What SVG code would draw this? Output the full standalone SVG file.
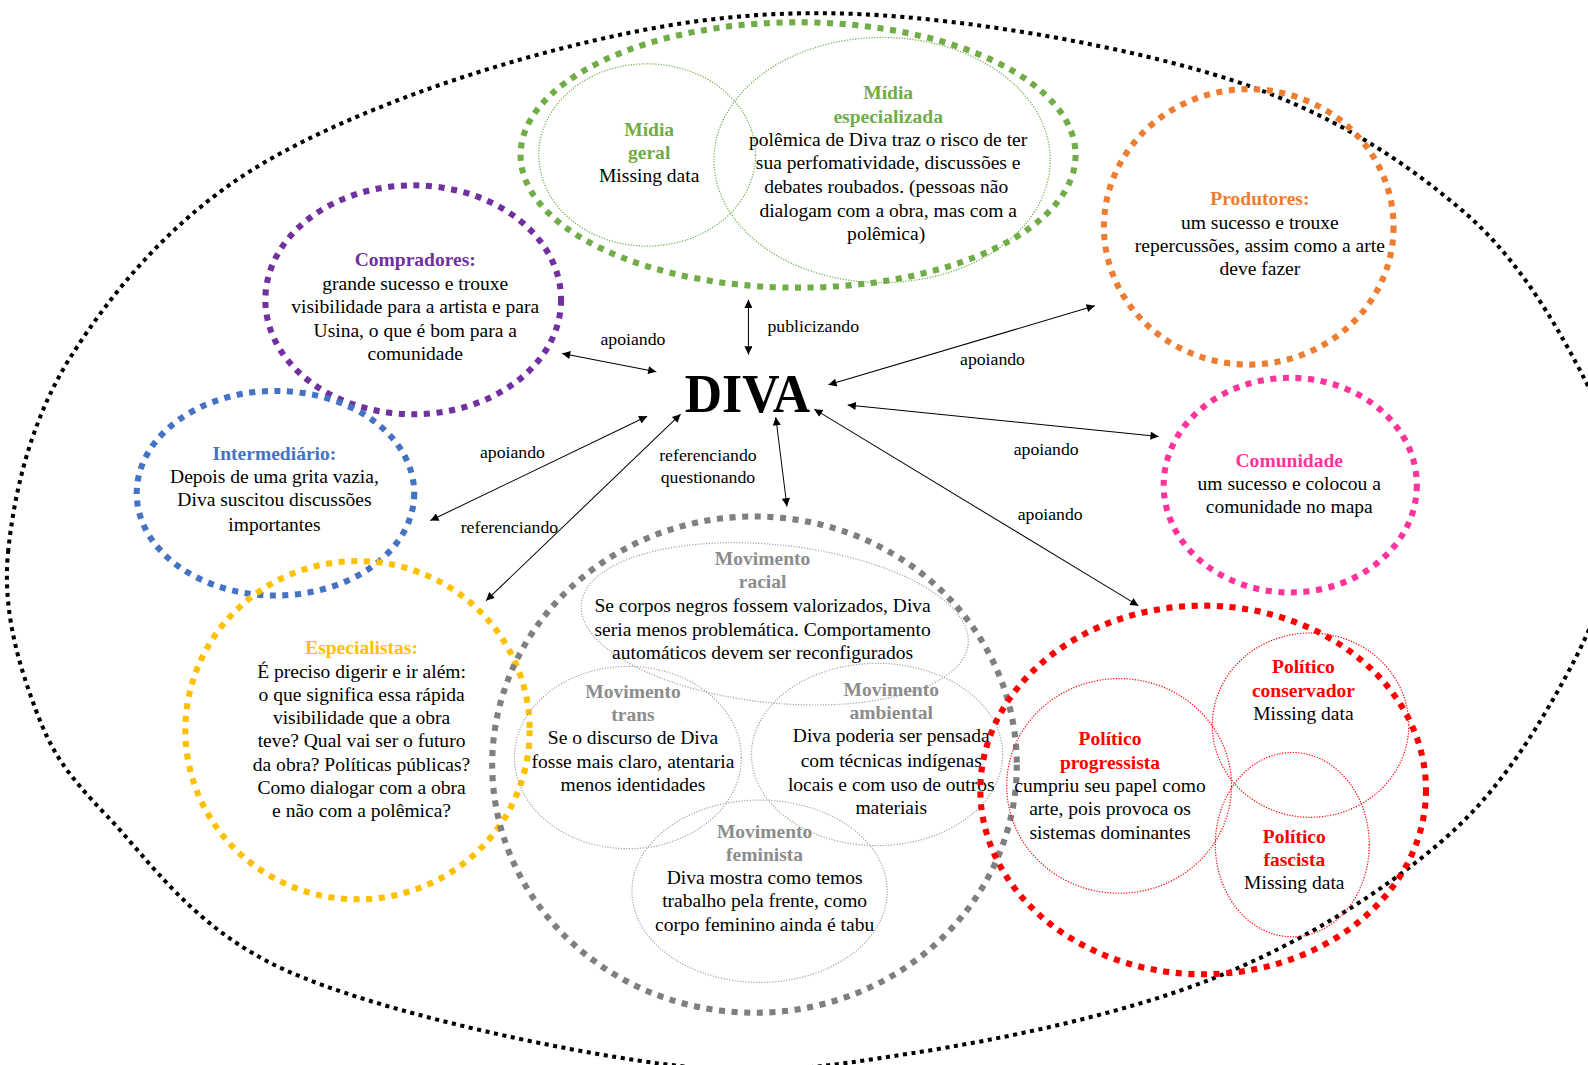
<svg xmlns="http://www.w3.org/2000/svg" width="1588" height="1065" viewBox="0 0 1588 1065">
<style>
text{font-family:"Liberation Serif","Times New Roman",serif;text-anchor:middle;fill:#000}
.n{font-size:19.3px}
.b{font-weight:bold}
.lb{font-size:17.5px}
.big{fill:none;stroke-width:6;stroke-dasharray:6 6.5}
.thin{fill:none;stroke-width:1.2;stroke-dasharray:1.2 1.5}
.gr{fill:#70AD47}.pu{fill:#7030A0}.bl{fill:#4472C4}.ye{fill:#FFC000}.or{fill:#ED7D31}.pk{fill:#FF3399}.rd{fill:#FF0000}.gy{fill:#8C8C8C}
.conn line{stroke:#000;stroke-width:1;marker-start:url(#ah);marker-end:url(#ah)}
</style>
<defs>
<marker id="ah" viewBox="0 0 10 10" refX="10" refY="5" markerWidth="11" markerHeight="8" markerUnits="userSpaceOnUse" orient="auto-start-reverse"><path d="M0,0 L10,5 L0,10 z" fill="#000"/></marker>
</defs>
<rect width="1588" height="1065" fill="#fff"/>
<g transform="scale(1.01276)">
<g id="contexto">
<path fill="none" stroke="#000" stroke-width="4" stroke-dasharray="4 4.5" d="M8 545 C13.8 487 30.2 414.7 70 352 C109.8 289.3 167 219.5 247 169 C327 118.5 449.5 74.8 550 49 C650.5 23.2 739 9 850 14 C961 19 1117 46.7 1216 79 C1315 111.3 1385.7 158.3 1444 208 C1502.3 257.7 1540 326.7 1566 377 C1592 427.3 1603.5 461.2 1600 510 C1596.5 558.8 1574.7 616.3 1545 670 C1515.3 723.7 1479.8 782.7 1422 832 C1364.2 881.3 1285 931.3 1198 966 C1111 1000.7 991.3 1026 900 1040 C808.7 1054 753 1063.7 650 1050 C547 1036.3 372.7 998.7 282 958 C191.3 917.3 147.2 849 106 806 C64.8 763 51.3 743.5 35 700 C18.7 656.5 2.2 603 8 545 Z"/>
</g>

<g id="midia">
<ellipse class="big" stroke="#70AD47" cx="788" cy="153" rx="274" ry="131"/>
<ellipse class="thin" stroke="#70AD47" cx="639" cy="153" rx="107" ry="90"/>
<ellipse class="thin" stroke="#70AD47" cx="871" cy="158" rx="166" ry="121"/>
<text class="n b gr" x="641" y="134">Mídia<tspan x="641" dy="23">geral</tspan></text>
<text class="n" x="641" y="180">Missing data</text>
<text class="n b gr" x="877" y="98">Mídia<tspan x="877" dy="23.3">especializada</tspan></text>
<text class="n" x="877" y="144">polêmica de Diva traz o risco de ter<tspan x="877" dy="23.3">sua perfomatividade, discussões e</tspan><tspan x="875" dy="23.3">debates roubados. (pessoas não</tspan><tspan x="877" dy="23.3">dialogam com a obra, mas com a</tspan><tspan x="875" dy="23.3">polêmica)</tspan></text>
</g>

<g id="compradores">
<ellipse class="big" stroke="#7030A0" cx="408" cy="296" rx="146" ry="113"/>
<text class="n b pu" x="410" y="263">Compradores:</text>
<text class="n" x="410" y="286">grande sucesso e trouxe<tspan x="410" dy="23">visibilidade para a artista e para</tspan><tspan x="410" dy="23.5">Usina, o que é bom para a</tspan><tspan x="410" dy="22.5">comunidade</tspan></text>
</g>

<g id="intermediario">
<ellipse class="big" stroke="#4472C4" cx="272" cy="487" rx="137" ry="101"/>
<text class="n b bl" x="271" y="454">Intermediário:</text>
<text class="n" x="271" y="477">Depois de uma grita vazia,<tspan x="271" dy="23">Diva suscitou discussões</tspan><tspan x="271" dy="24">importantes</tspan></text>
</g>

<g id="especialistas">
<ellipse class="big" stroke="#FFC000" cx="353" cy="721" rx="170" ry="167"/>
<text class="n b ye" x="357" y="646">Especialistas:</text>
<text class="n" x="357" y="669">É preciso digerir e ir além:<tspan x="357" dy="23">o que significa essa rápida</tspan><tspan x="357" dy="23">visibilidade que a obra</tspan><tspan x="357" dy="23">teve? Qual vai ser o futuro</tspan><tspan x="357" dy="23">da obra? Políticas públicas?</tspan><tspan x="357" dy="23">Como dialogar com a obra</tspan><tspan x="357" dy="23">e não com a polêmica?</tspan></text>
</g>

<g id="movimentos">
<ellipse class="big" stroke="#7F7F7F" cx="745" cy="755" rx="259" ry="245"/>
<ellipse class="thin" stroke="#A5A5A5" cx="765" cy="616" rx="192" ry="78" transform="rotate(6 765 616)"/>
<ellipse class="thin" stroke="#A5A5A5" cx="620" cy="748" rx="112" ry="90"/>
<ellipse class="thin" stroke="#A5A5A5" cx="866" cy="745" rx="124" ry="90"/>
<ellipse class="thin" stroke="#A5A5A5" cx="750" cy="880" rx="126" ry="90"/>
<text class="n b gy" x="753" y="558">Movimento<tspan x="753" dy="23">racial</tspan></text>
<text class="n" x="753" y="604">Se corpos negros fossem valorizados, Diva<tspan x="753" dy="24">seria menos problemática. Comportamento</tspan><tspan x="753" dy="23">automáticos devem ser reconfigurados</tspan></text>
<text class="n b gy" x="625" y="689">Movimento<tspan x="625" dy="23">trans</tspan></text>
<text class="n" x="625" y="735">Se o discurso de Diva<tspan x="625" dy="23">fosse mais claro, atentaria</tspan><tspan x="625" dy="23">menos identidades</tspan></text>
<text class="n b gy" x="880" y="687">Movimento<tspan x="880" dy="23">ambiental</tspan></text>
<text class="n" x="880" y="733">Diva poderia ser pensada<tspan x="880" dy="24">com técnicas indígenas</tspan><tspan x="880" dy="24">locais e com uso de outros</tspan><tspan x="880" dy="23">materiais</tspan></text>
<text class="n b gy" x="755" y="827">Movimento<tspan x="755" dy="23">feminista</tspan></text>
<text class="n" x="755" y="873">Diva mostra como temos<tspan x="755" dy="23">trabalho pela frente, como</tspan><tspan x="755" dy="23">corpo feminino ainda é tabu</tspan></text>
</g>

<g id="produtores">
<ellipse class="big" stroke="#ED7D31" cx="1233" cy="224" rx="143" ry="136"/>
<text class="n b or" x="1244" y="202">Produtores:</text>
<text class="n" x="1244" y="226">um sucesso e trouxe<tspan x="1244" dy="22.5">repercussões, assim como a arte</tspan><tspan x="1244" dy="23.5">deve fazer</tspan></text>
</g>

<g id="comunidade">
<ellipse class="big" stroke="#FF3399" cx="1274" cy="479" rx="125" ry="106"/>
<text class="n b pk" x="1273" y="461">Comunidade</text>
<text class="n" x="1273" y="484">um sucesso e colocou a<tspan x="1273" dy="23">comunidade no mapa</tspan></text>
</g>

<g id="politico">
<ellipse class="big" stroke="#FF0000" cx="1188" cy="780" rx="220" ry="182"/>
<ellipse class="thin" stroke="#FF0000" cx="1105" cy="776" rx="111" ry="106"/>
<ellipse class="thin" stroke="#FF0000" cx="1294" cy="716" rx="97" ry="91"/>
<ellipse class="thin" stroke="#FF0000" cx="1276" cy="834" rx="76" ry="91"/>
<text class="n b rd" x="1287" y="665">Político<tspan x="1287" dy="23">conservador</tspan></text>
<text class="n" x="1287" y="711">Missing data</text>
<text class="n b rd" x="1096" y="736">Político<tspan x="1096" dy="23">progressista</tspan></text>
<text class="n" x="1096" y="782">cumpriu seu papel como<tspan x="1096" dy="23">arte, pois provoca os</tspan><tspan x="1096" dy="23">sistemas dominantes</tspan></text>
<text class="n b rd" x="1278" y="832">Político<tspan x="1278" dy="23">fascista</tspan></text>
<text class="n" x="1278" y="878">Missing data</text>
</g>

<g id="diva">
<text class="b" x="738" y="407" font-size="54" textLength="124" lengthAdjust="spacingAndGlyphs">DIVA</text>
</g>

<g id="connectors" class="conn">
<line x1="555" y1="349" x2="648" y2="367"/>
<line x1="739" y1="296" x2="739" y2="350"/>
<line x1="425" y1="514" x2="639" y2="411"/>
<line x1="480" y1="593" x2="672" y2="409"/>
<line x1="766" y1="412" x2="777" y2="500"/>
<line x1="818" y1="380" x2="1081" y2="302"/>
<line x1="837" y1="400" x2="1144" y2="431"/>
<line x1="804" y1="404" x2="1124" y2="598"/>
<text class="lb" x="625" y="341">apoiando</text>
<text class="lb" x="803" y="328">publicizando</text>
<text class="lb" x="506" y="452">apoiando</text>
<text class="lb" x="503" y="526">referenciando</text>
<text class="lb" x="699" y="455">referenciando<tspan x="699" dy="22">questionando</tspan></text>
<text class="lb" x="980" y="360">apoiando</text>
<text class="lb" x="1033" y="449">apoiando</text>
<text class="lb" x="1037" y="513">apoiando</text>
</g>
</g>
</svg>
